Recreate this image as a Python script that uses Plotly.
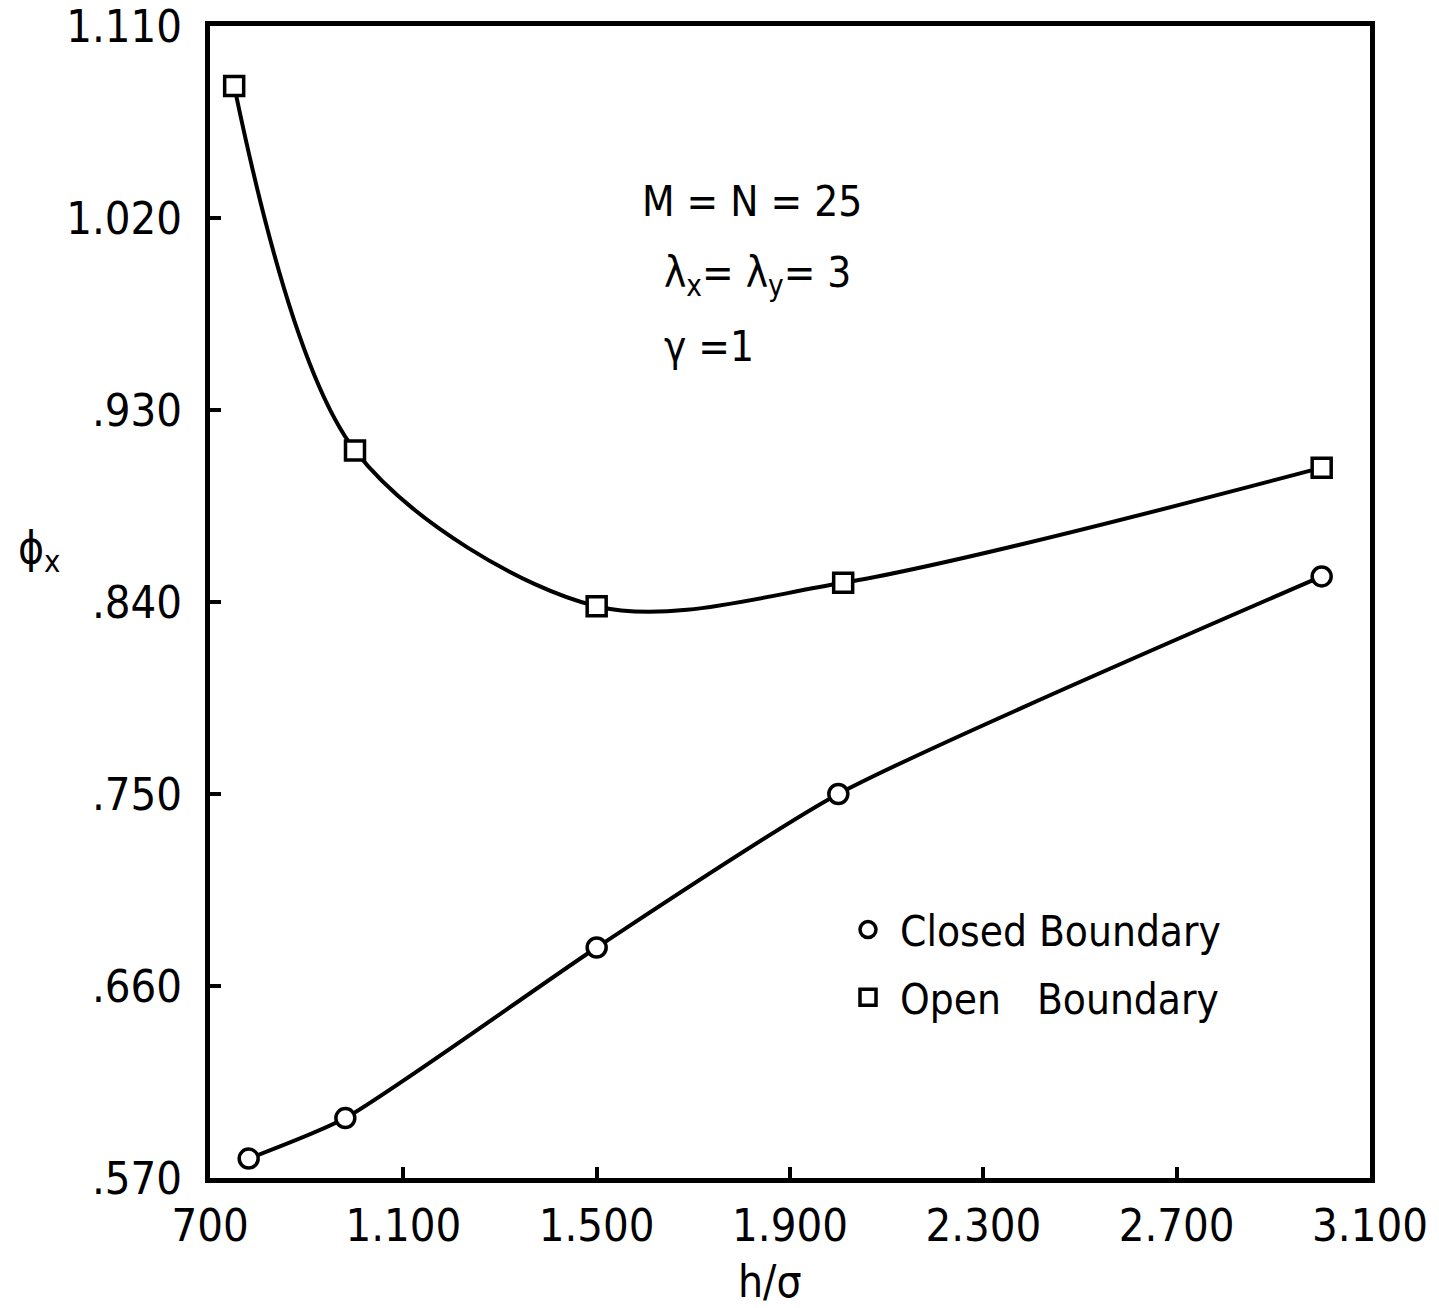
import plotly.graph_objects as go

# h/sigma values and phi_x for the two boundary conditions
closed_h = [0.78, 0.98, 1.50, 2.00, 3.00]
closed_phi = [0.579, 0.598, 0.678, 0.750, 0.852]

open_h = [0.75, 1.00, 1.50, 2.01, 3.00]
open_phi = [1.082, 0.911, 0.838, 0.849, 0.903]

x_ticks = [0.7, 1.1, 1.5, 1.9, 2.3, 2.7, 3.1]
x_tick_text = ["700", "1.100", "1.500", "1.900", "2.300", "2.700", "3.100"]
y_ticks = [0.57, 0.66, 0.75, 0.84, 0.93, 1.02, 1.11]
y_tick_text = [".570", ".660", ".750", ".840", ".930", "1.020", "1.110"]

FONT = "DejaVu Sans Condensed, Liberation Sans Narrow, Roboto Condensed, Roboto, sans-serif"
INK = "black"

fig = go.Figure()

# curves with their markers
fig.add_trace(go.Scatter(
    x=closed_h, y=closed_phi, mode="lines+markers",
    line=dict(color=INK, width=4, shape="spline", smoothing=0.6),
    marker=dict(symbol="circle", size=19, color="white", line=dict(color=INK, width=3.5)),
    showlegend=False,
))
fig.add_trace(go.Scatter(
    x=open_h, y=open_phi, mode="lines+markers",
    line=dict(color=INK, width=4, shape="spline", smoothing=0.9),
    marker=dict(symbol="square", size=19, color="white", line=dict(color=INK, width=3.5)),
    showlegend=False,
))

# legend entries (symbols only)
fig.add_trace(go.Scatter(
    x=[None], y=[None], mode="markers", name="\u00a0Closed Boundary",
    marker=dict(symbol="circle-open", size=16, color=INK, line=dict(width=3.5)),
    legendgroup="closed",
))
fig.add_trace(go.Scatter(
    x=[None], y=[None], mode="markers", name="\u00a0Open\u00a0\u00a0\u00a0Boundary",
    marker=dict(symbol="square-open", size=16, color=INK, line=dict(width=3.5)),
    legendgroup="open",
))

axis_common = dict(
    showline=True, linecolor=INK, linewidth=5, mirror=True,
    ticks="inside", ticklen=11, tickwidth=4, tickcolor=INK,
    showgrid=False, zeroline=False, ticklabeloverflow="allow", automargin=False,
    tickfont=dict(family=FONT, size=45, color=INK),
)

fig.update_xaxes(range=[0.7, 3.1], tickvals=x_ticks, ticktext=x_tick_text,
                 ticklabelstandoff=4, **axis_common)
fig.update_yaxes(range=[0.5699, 1.1101], tickvals=y_ticks, ticktext=y_tick_text,
                 ticklabelstandoff=14, **axis_common)

ann_font = dict(family=FONT, size=42, color=INK)
fig.add_annotation(xref="paper", yref="paper", x=0.371, y=0.848, xanchor="left", yanchor="middle",
                   text="M = N = 25", showarrow=False, font=ann_font)
fig.add_annotation(xref="paper", yref="paper", x=0.39, y=0.783, xanchor="left", yanchor="middle",
                   text="\u03bb<sub>x</sub>= \u03bb<sub>y</sub>= 3", showarrow=False, font=ann_font)
fig.add_annotation(xref="paper", yref="paper", x=0.39, y=0.722, xanchor="left", yanchor="middle",
                   text="\u03b3 =1", showarrow=False, font=ann_font)

# axis titles
fig.add_annotation(xref="paper", yref="paper", x=0.483, y=-0.09, yanchor="middle",
                   text="h/\u03c3", showarrow=False, font=dict(family=FONT, size=44, color=INK))
fig.add_annotation(xref="paper", yref="paper", x=-0.167, y=0.545, yanchor="middle",
                   text="\u03d5<sub>x</sub>", showarrow=False,
                   font=dict(family=FONT, size=44, color=INK))

fig.update_layout(
    width=1439, height=1308,
    margin=dict(l=210, r=69, t=26, b=130, autoexpand=False),
    paper_bgcolor="white", plot_bgcolor="white",
    legend=dict(x=0.55, y=0.245, xanchor="left", yanchor="top",
                font=dict(family=FONT, size=42, color=INK),
                bgcolor="rgba(0,0,0,0)", tracegroupgap=10, itemwidth=30),
)

fig.write_html("out.html")
